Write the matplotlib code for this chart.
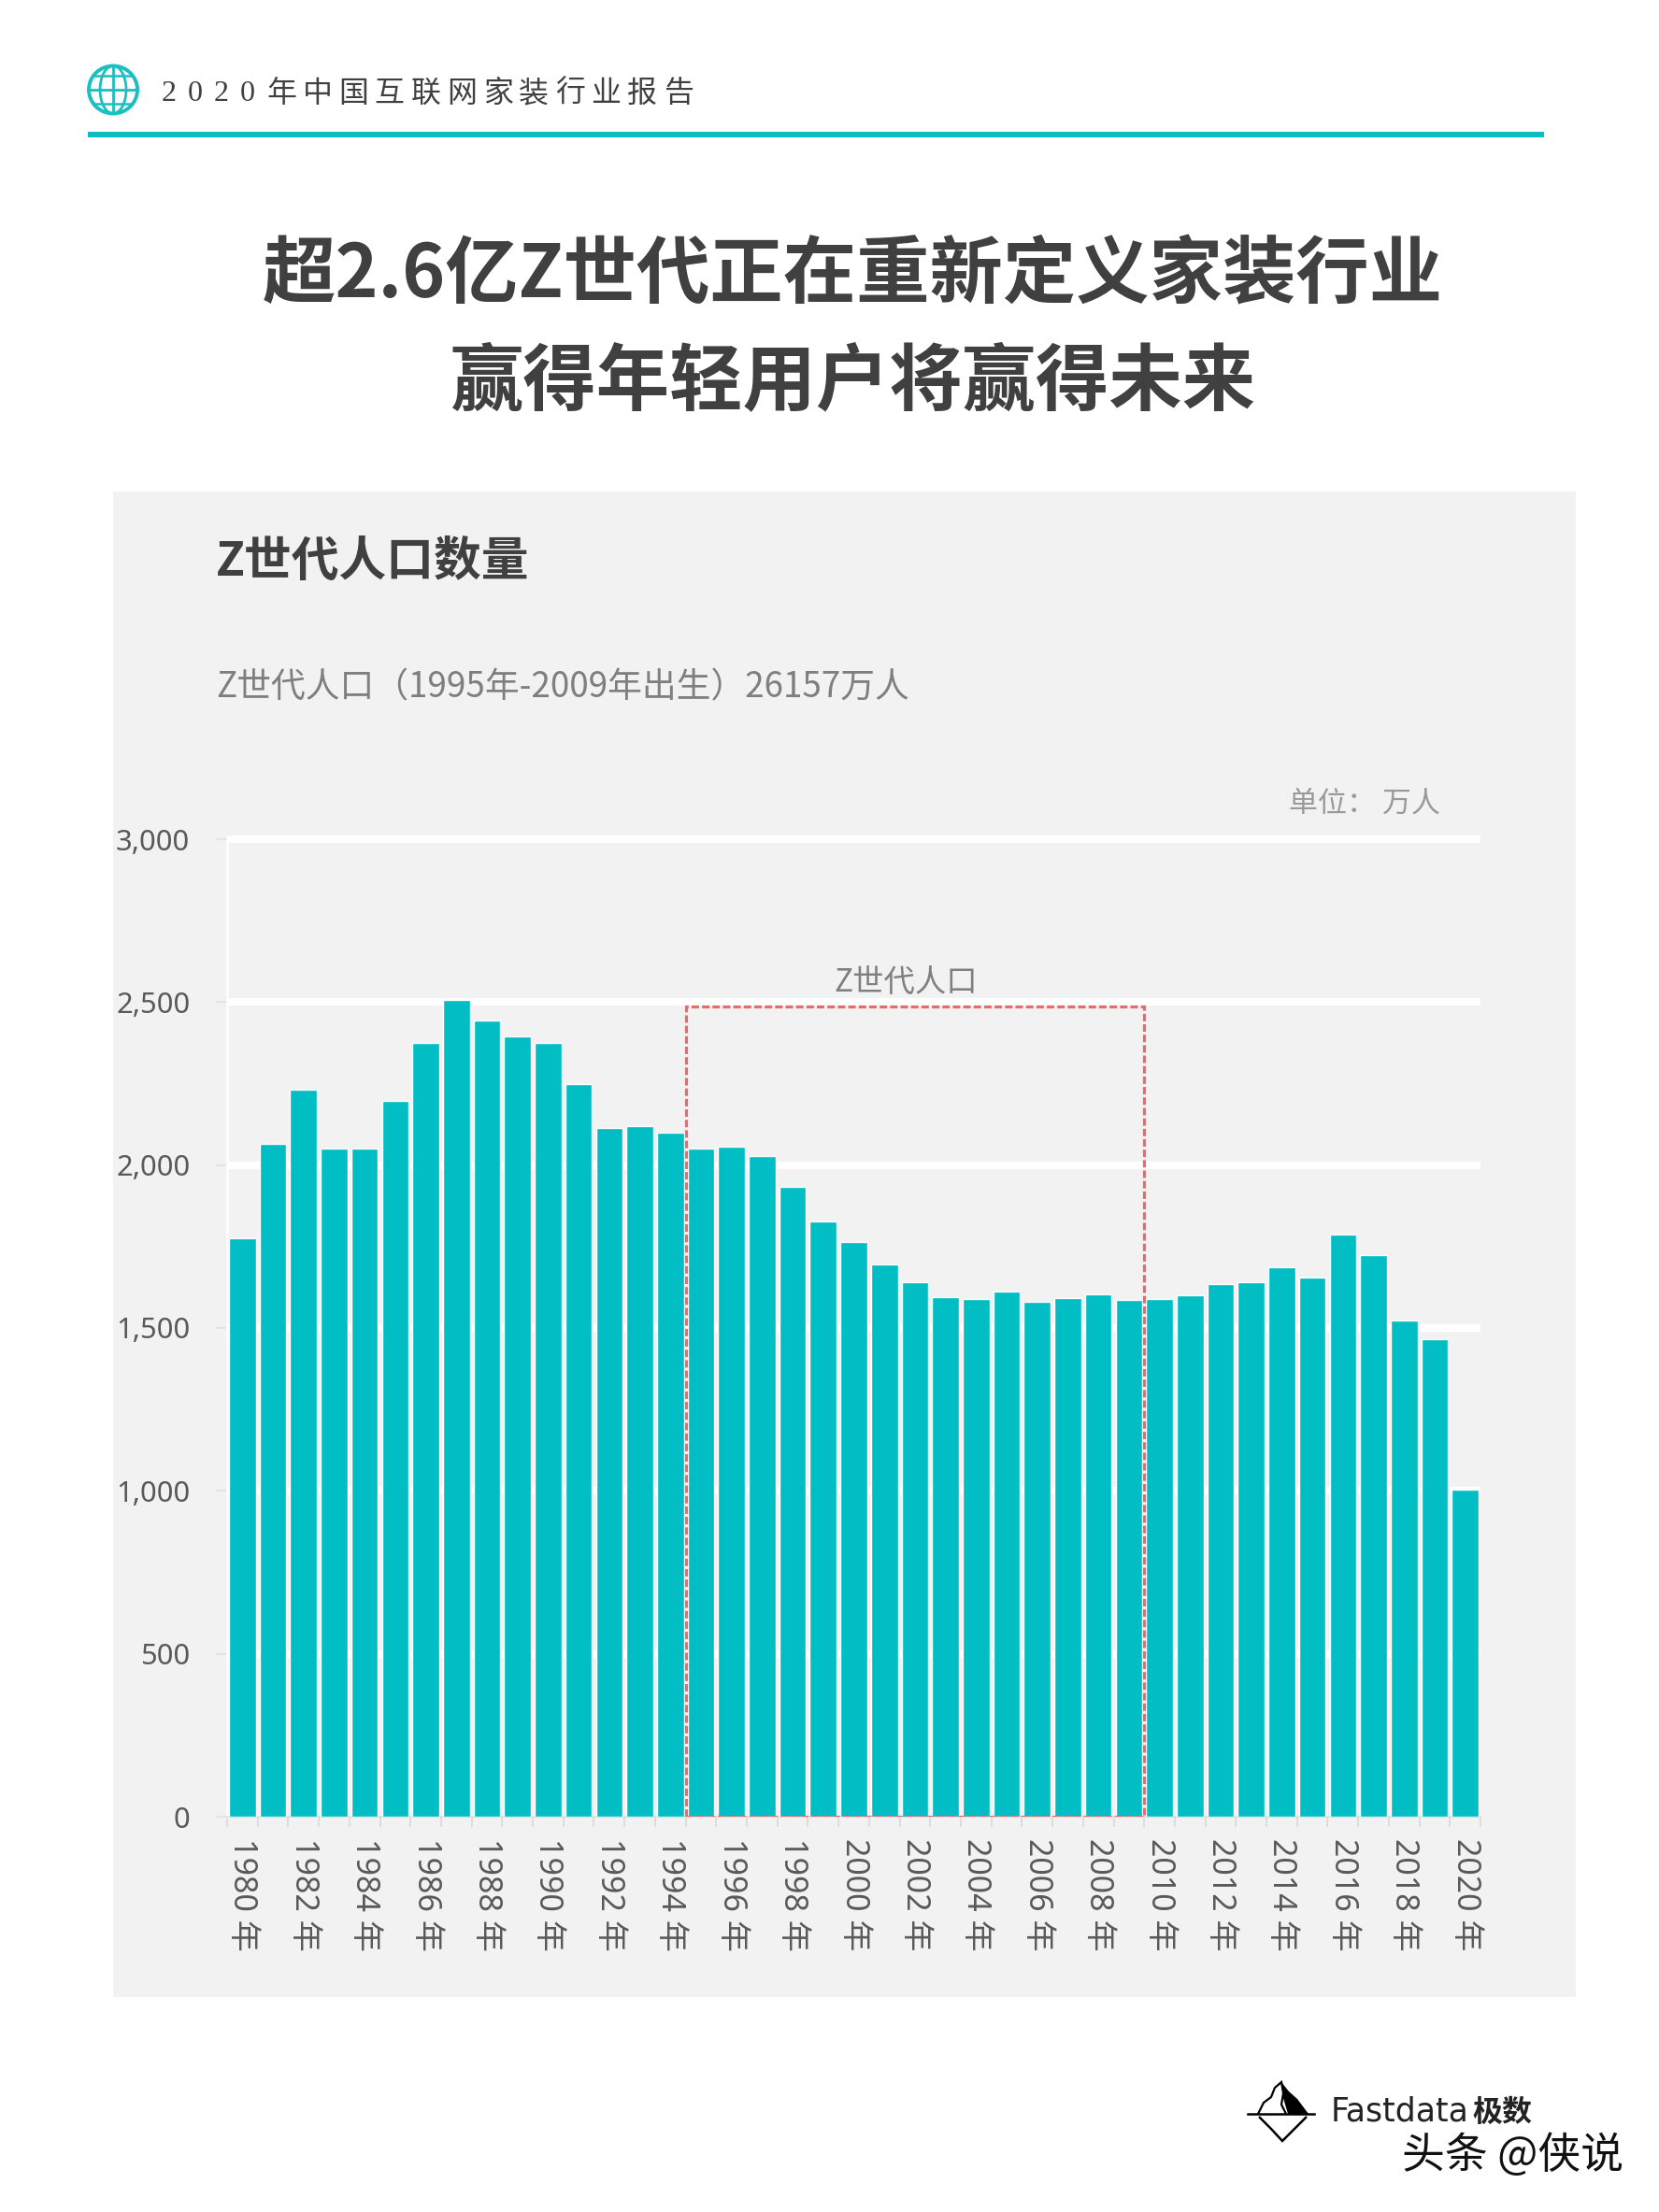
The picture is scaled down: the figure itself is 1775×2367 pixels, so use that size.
import matplotlib
matplotlib.use('Agg')
import matplotlib.pyplot as plt
from matplotlib.patches import Ellipse, Polygon, Rectangle
from matplotlib.ticker import FuncFormatter

years = list(range(1980, 2021))
births = [1776, 2064, 2230, 2052, 2050, 2196, 2374, 2508, 2445, 2396, 2374,
          2250, 2113, 2120, 2098, 2052, 2057, 2028, 1934, 1827, 1765, 1696,
          1641, 1594, 1588, 1612, 1581, 1591, 1604, 1587, 1588, 1600, 1635,
          1640, 1687, 1655, 1786, 1723, 1523, 1465, 1003]
y_ticks = [0, 500, 1000, 1500, 2000, 2500, 3000]
z_first = 1995
z_last = 2009
z_top = 2486

header = '2020年中国互联网家装行业报告'
title_lines = ['超2.6亿Z世代正在重新定义家装行业', '赢得年轻用户将赢得未来']
chart_title = 'Z世代人口数量'
subtitle = 'Z世代人口（1995年-2009年出生）26157万人'
unit = '单位： 万人'
z_label = 'Z世代人口'

W, H = 1775, 2367
TEAL = '#00BEC3'
CJK = ['Noto Sans CJK SC', 'DejaVu Sans']
LATIN_CJK = ['Noto Sans', 'Noto Sans CJK SC', 'DejaVu Sans']

plt.rcParams['font.family'] = CJK

fig = plt.figure(figsize=(W / 100, H / 100), dpi=100, facecolor='white')

# page layer in pixel coordinates
page = fig.add_axes([0, 0, 1, 1], zorder=0)
page.set_xlim(0, W)
page.set_ylim(H, 0)
page.axis('off')

page.add_patch(Rectangle((121, 526), 1565, 1611, color='#F2F2F2', lw=0))
page.add_patch(Rectangle((94, 141), 1558, 6, color='#10BCC0', lw=0))

# globe icon
page.add_patch(Ellipse((121, 96), 52, 51, fill=False, ec='#1ABFC2', lw=2.8))
page.add_patch(Ellipse((121, 96), 28, 51, fill=False, ec='#1ABFC2', lw=2))
page.plot([95, 147], [96, 96], color='#1ABFC2', lw=2)
page.plot([121, 121], [71, 121], color='#1ABFC2', lw=2)
page.plot([101, 141], [81, 81], color='#1ABFC2', lw=1.8)
page.plot([101, 141], [111, 111], color='#1ABFC2', lw=1.8)

# header text has wide tracking, so one text per character
x = 173
for ch in header:
    page.text(x, 100, ch, fontsize=23, color='#404040', va='center', ha='left',
              family=['Liberation Serif'] + CJK if ch.isdigit() else CJK, weight='light')
    x += 28 if ch.isdigit() else 38.6

page.text(912, 296, title_lines[0], fontsize=56.4, weight='bold', color='#404040',
          ha='center', va='center')
page.text(912, 409, title_lines[1], fontsize=56.4, weight='bold', color='#404040',
          ha='center', va='center')
page.text(231, 601, chart_title, fontsize=36.5, weight='bold', color='#404040',
          ha='left', va='center')
page.text(231, 736, subtitle, fontsize=26.5, weight='light', color='#7F7F7F',
          ha='left', va='center')
page.text(1379, 860, unit, fontsize=22.3, weight='light', color='#999999',
          ha='left', va='center')

# logo
page.add_patch(Polygon([(1347, 2265), (1360, 2278), (1372, 2291), (1385, 2278), (1398, 2265)],
                       closed=False, fill=False, ec='black', lw=1.8))
page.add_patch(Polygon([(1346, 2262), (1352, 2250), (1360, 2244), (1364, 2234), (1371, 2228),
                        (1373, 2240), (1371, 2252), (1376, 2262)],
                       closed=False, fill=False, ec='black', lw=1.6))
page.add_patch(Polygon([(1371, 2228), (1379, 2238), (1388, 2246), (1400, 2262), (1378, 2262),
                        (1373, 2245)], color='black', lw=0))
page.plot([1335, 1406], [2262, 2262], color='black', lw=1.8)
page.text(1424, 2260, 'Fastdata', fontsize=25, family='DejaVu Sans', color='#222222',
          ha='left', va='center')
page.text(1575, 2261, '极数', fontsize=23, weight='bold', color='#222222',
          ha='left', va='center')
page.text(1500, 2307, '头条 @侠说', fontsize=33, weight='light', color='#111111',
          ha='left', va='center')

# chart layer
ax = fig.add_axes([243 / W, 1 - 1944 / H, 1341 / W, 1046 / H], zorder=1)
ax.patch.set_alpha(0)
positions = list(range(len(years)))
ax.bar(positions, births, width=0.875, color=TEAL, edgecolor='white', linewidth=1.0, zorder=3)
ax.set_xlim(-0.5, len(years) - 0.5)
ax.set_ylim(0, 3000)

ax.set_yticks(y_ticks)
ax.yaxis.set_major_formatter(FuncFormatter(lambda v, p: f'{int(v):,}'))
ax.tick_params(axis='y', length=8.6, width=1.2, color='#E0E0E0', pad=20,
               labelsize=22.3, labelcolor='#595959')
for label in ax.get_yticklabels():
    label.set_family(LATIN_CJK)

for v in y_ticks[1:]:
    ax.axhline(v, color='white', lw=5.8, zorder=1, clip_on=False, solid_capstyle='butt')

ax.set_xticks(positions[::2])
ax.set_xticklabels([f'{y} 年' for y in years[::2]], rotation=-90, family=LATIN_CJK,
                   fontsize=24.5, color='#595959', ha='center', va='top')
ax.tick_params(axis='x', which='major', length=0, pad=16.5)
ax.set_xticks([p - 0.5 for p in positions] + [positions[-1] + 0.5], minor=True)
ax.tick_params(axis='x', which='minor', length=8, width=1.2, color='#D9D9D9')

for side in ['top', 'right']:
    ax.spines[side].set_visible(False)
ax.spines['left'].set_color('white')
ax.spines['left'].set_linewidth(1.8)
ax.spines['bottom'].set_color('#D9D9D9')
ax.spines['bottom'].set_linewidth(1.2)

# dashed box around the Z generation years
left = years.index(z_first) - 0.5
right = years.index(z_last) + 0.5
ax.add_patch(Rectangle((left, 0), right - left, z_top, fill=False, ec='#E46C6C',
                       lw=2.3, ls=(0, (2.5, 1)), zorder=4))
ax.text((left + right) / 2 - 0.3, z_top + 25, z_label, fontsize=24, weight='light',
        color='#7F7F7F', ha='center', va='bottom')

fig.savefig('out.png', dpi=100, facecolor='white')
